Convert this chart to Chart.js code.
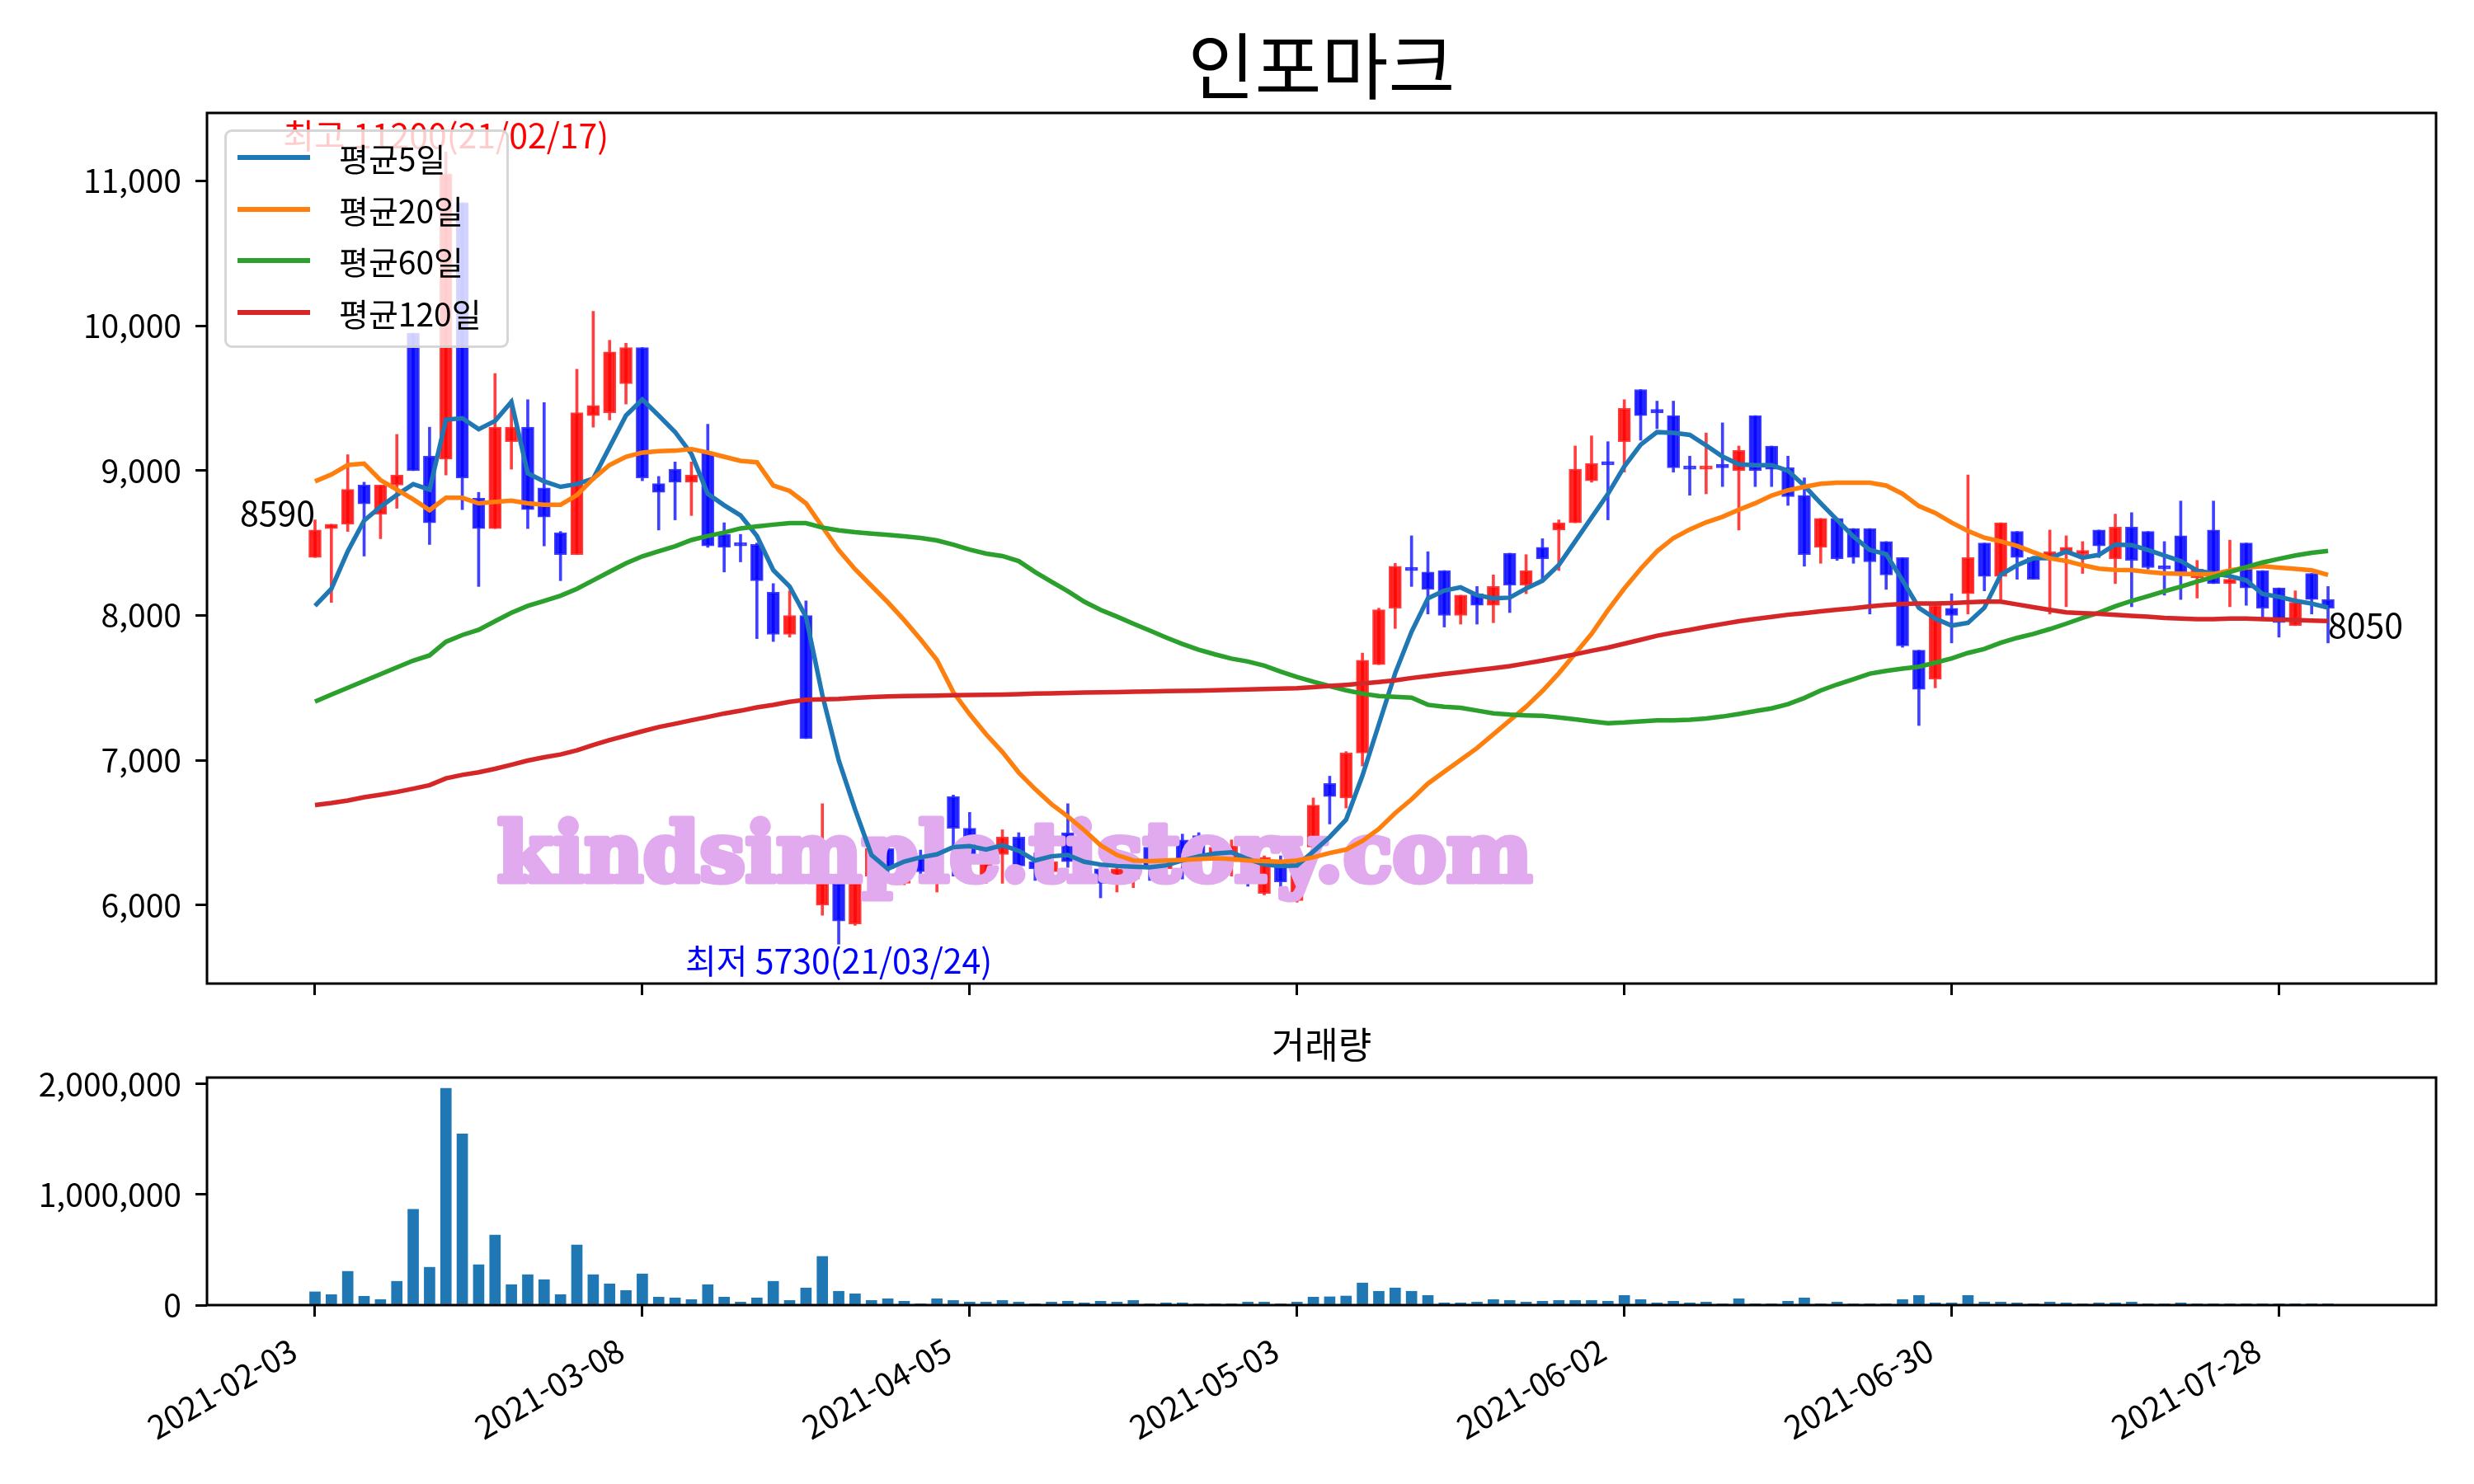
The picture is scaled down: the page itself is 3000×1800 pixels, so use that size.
<!DOCTYPE html>
<html lang="ko">
<head>
<meta charset="UTF-8">
<title>인포마크</title>
<script src="https://cdn.jsdelivr.net/npm/chart.js@4"></script>
<style>
  body { margin: 0; background: #fff; }
  #wrap { position: relative; width: 3000px; height: 1800px; }
  canvas { position: absolute; left: 0; }
  #legend {
    position: absolute; left: 272px; top: 157px; width: 345px; height: 265px;
    box-sizing: border-box; border: 3px solid rgba(204, 204, 204, 0.8); border-radius: 9px;
    background: rgba(255, 255, 255, 0.8);
    font-family: 'Noto Sans CJK KR', 'Noto Sans', sans-serif; font-size: 39px; color: #000;
  }
  .row { position: absolute; left: 0; width: 100%; height: 50px; }
  .row .swatch { position: absolute; left: 13px; top: 22px; width: 88px; height: 6px; }
  .row .name { position: absolute; left: 136px; top: 0; line-height: 50px; white-space: nowrap; }
</style>
</head>
<body>
<div id="wrap">
  <canvas id="priceChart" width="3000" height="1250" style="top:0"></canvas>
  <canvas id="volChart" width="3000" height="600" style="top:1200px"></canvas>
  <div id="legend"></div>
</div>

<script>
// 축 눈금
const tickIdx = [0, 20, 40, 60, 80, 100, 120];
const tickLabels = ['2021-02-03', '2021-03-08', '2021-04-05', '2021-05-03', '2021-06-02', '2021-06-30', '2021-07-28'];
const priceTicks = [6000, 7000, 8000, 9000, 10000, 11000];
const volTicks = [0, 1000000, 2000000];
const highDate = '21/02/17';
const lowDate = '21/03/24';

// 일봉 (시가/고가/저가/종가)
const opens = [8400,8600,8630,8900,8700,8900,9950,9100,9080,10850,
  8810,8600,9200,9300,8880,8570,8420,9380,9400,9600,
  9850,8910,9010,8920,9130,8560,8500,8490,8160,7870,
  8000,6000,6150,5870,6200,6390,6150,6320,6250,6750,
  6530,6200,6350,6470,6300,6230,6500,6300,6250,6170,
  6180,6400,6250,6450,6480,6330,6300,6400,6080,6310,
  6030,6400,6840,6740,7050,7660,8050,8330,8300,8310,
  8000,8150,8070,8430,8210,8470,8590,8640,8930,9050,
  9200,9560,9410,9380,9020,9010,9030,9000,9380,9170,
  9020,8830,8470,8670,8600,8600,8510,8400,7760,7560,
  8050,8150,8500,8270,8580,8400,8390,8440,8420,8590,
  8390,8610,8580,8330,8550,8260,8590,8220,8500,8310,
  8190,7930,8290,8110];
const highs = [8660,8630,9110,8920,8900,9250,9950,9300,11200,10850,
  8850,9670,9490,9490,9470,8580,9700,10100,9900,9880,
  9850,8960,9060,9060,9320,8640,8560,8500,8220,8170,
  8100,6700,6150,6200,6450,6420,6350,6380,6540,6760,
  6640,6440,6520,6500,6360,6350,6700,6380,6280,6310,
  6290,6490,6380,6490,6500,6450,6450,6420,6340,6340,
  6320,6740,6890,7060,7740,8050,8360,8550,8440,8310,
  8140,8200,8280,8430,8420,8530,8660,9170,9240,9200,
  9490,9560,9480,9480,9100,9260,9330,9170,9380,9170,
  9100,8950,8670,8670,8600,8600,8510,8400,7760,8070,
  8150,8970,8500,8640,8580,8400,8590,8550,8510,8590,
  8700,8710,8580,8510,8790,8380,8790,8520,8500,8310,
  8190,8170,8290,8200];
const lows = [8400,8090,8580,8410,8530,8740,9000,8490,8970,8730,
  8200,8600,9010,8600,8480,8240,8420,9300,9350,9460,
  8930,8590,8660,8690,8470,8300,8370,7840,7820,7850,
  7150,5930,5730,5860,6150,6200,6140,6170,6090,6200,
  6170,6150,6150,6170,6170,6150,6260,6250,6050,6090,
  6120,6170,6200,6180,6250,6280,6200,6130,6070,6100,
  6020,6350,6560,6670,6960,7660,7910,8200,8010,7920,
  7940,7940,7950,8020,8150,8250,8310,8640,8920,8660,
  8990,9210,9290,8990,8830,8840,8890,8590,8890,8890,
  8760,8340,8360,8380,8360,8010,8180,7780,7240,7500,
  7810,8010,8170,8110,8250,8250,8010,8060,8290,8400,
  8220,8060,8320,8140,8110,8120,8220,8060,8070,7970,
  7850,7930,8010,7810];
const closes = [8590,8630,8870,8770,8900,8970,9000,8640,11050,8950,
  8600,9300,9300,8730,8680,8420,9400,9450,9820,9850,
  8950,8850,8920,8970,8480,8470,8480,8240,7870,8000,
  7150,6150,5890,6150,6390,6250,6320,6230,6530,6530,
  6310,6420,6470,6270,6250,6300,6300,6320,6150,6250,
  6250,6250,6320,6300,6330,6400,6410,6250,6330,6160,
  6280,6690,6750,7050,7690,8040,8340,8310,8180,8000,
  8140,8070,8200,8210,8310,8390,8640,9010,9050,9040,
  9430,9380,9400,9020,9010,9020,9020,9140,9000,9010,
  8820,8420,8670,8390,8400,8370,8280,7790,7490,8070,
  8000,8400,8270,8640,8400,8250,8440,8470,8450,8480,
  8610,8380,8330,8320,8300,8320,8220,8250,8190,8050,
  7950,8090,8110,8050];

// 이동평균선
const ma5 = [8066,8184,8443,8655,8750,8832,8907,8869,9352,9362,
  9286,9343,9475,8982,8926,8888,8907,8945,9163,9381,
  9491,9381,9267,9115,8840,8761,8691,8549,8313,8200,
  7990,7450,7000,6660,6346,6250,6300,6330,6350,6400,
  6407,6384,6413,6375,6308,6337,6346,6299,6280,6270,
  6265,6261,6274,6308,6337,6356,6365,6318,6280,6270,
  6274,6370,6470,6590,6894,7247,7601,7887,8118,8172,
  8194,8140,8118,8123,8186,8240,8349,8512,8676,8839,
  9029,9179,9266,9261,9247,9174,9097,9043,9038,9038,
  9000,8895,8775,8660,8546,8452,8423,8243,8053,7978,
  7930,7949,8053,8281,8347,8395,8395,8442,8399,8418,
  8490,8486,8452,8414,8376,8309,8290,8271,8243,8148,
  8129,8101,8082,8054];
const ma20 = [8926,8973,9039,9049,8935,8869,8802,8727,8812,8812,
  8774,8784,8793,8774,8764,8764,8831,8945,9039,9096,
  9125,9134,9138,9149,9125,9096,9068,9058,8897,8860,
  8774,8612,8451,8319,8205,8091,7968,7835,7693,7470,
  7318,7180,7057,6915,6801,6697,6612,6517,6413,6346,
  6308,6303,6308,6312,6318,6323,6318,6308,6303,6299,
  6308,6330,6360,6383,6443,6526,6635,6730,6839,6921,
  7002,7084,7179,7275,7370,7479,7601,7737,7873,8036,
  8186,8322,8444,8534,8594,8643,8681,8730,8775,8828,
  8864,8888,8909,8916,8916,8916,8897,8840,8755,8708,
  8641,8584,8537,8512,8480,8436,8395,8376,8347,8323,
  8315,8313,8300,8290,8287,8285,8285,8310,8330,8340,
  8330,8322,8312,8280];
const ma60 = [7405,7453,7500,7547,7594,7641,7688,7724,7818,7865,
  7901,7960,8018,8066,8101,8136,8184,8243,8302,8360,
  8408,8443,8478,8521,8549,8573,8601,8615,8627,8637,
  8637,8607,8588,8575,8565,8556,8546,8535,8518,8489,
  8455,8427,8410,8375,8300,8233,8167,8095,8038,7992,
  7943,7896,7848,7803,7763,7731,7702,7682,7653,7612,
  7575,7542,7512,7483,7460,7443,7438,7432,7383,7370,
  7362,7343,7324,7315,7310,7307,7296,7283,7269,7256,
  7261,7269,7275,7275,7280,7288,7302,7320,7340,7358,
  7387,7430,7482,7523,7560,7598,7617,7633,7646,7674,
  7703,7741,7769,7811,7845,7873,7906,7943,7983,8019,
  8063,8101,8133,8167,8199,8234,8266,8300,8334,8366,
  8391,8414,8433,8446];
const ma120 = [6691,6705,6722,6745,6762,6781,6804,6828,6875,6899,
  6917,6941,6969,6998,7021,7040,7068,7106,7139,7170,
  7200,7229,7252,7276,7299,7323,7342,7365,7382,7404,
  7418,7421,7424,7430,7437,7440,7443,7445,7447,7449,
  7450,7452,7454,7457,7460,7462,7465,7467,7469,7471,
  7473,7475,7477,7479,7481,7483,7486,7489,7492,7495,
  7498,7505,7513,7521,7530,7540,7552,7568,7582,7596,
  7609,7623,7636,7650,7669,7688,7710,7732,7756,7778,
  7805,7832,7860,7881,7900,7922,7941,7960,7976,7990,
  8005,8016,8029,8040,8050,8063,8072,8080,8082,8082,
  8086,8091,8095,8095,8076,8057,8038,8021,8016,8012,
  8004,7997,7991,7983,7978,7974,7974,7978,7978,7974,
  7972,7968,7964,7962];

// 거래량
const volumes = [120000,95000,305000,80000,50000,215000,866000,342000,1960000,1548000,
  365000,634000,185000,275000,230000,95000,544000,275000,192000,132000,
  282000,72000,65000,50000,185000,72000,27000,65000,215000,42000,
  155000,440000,125000,102000,42000,57000,35000,12000,57000,42000,
  27000,27000,42000,27000,12000,27000,35000,20000,35000,27000,
  42000,12000,20000,20000,12000,12000,12000,27000,27000,12000,
  27000,72000,75000,82000,200000,125000,155000,125000,87000,20000,
  20000,27000,50000,42000,27000,35000,42000,42000,42000,35000,
  87000,50000,20000,35000,20000,27000,12000,57000,5000,12000,
  35000,65000,12000,27000,12000,12000,3000,50000,87000,20000,
  20000,87000,27000,27000,20000,4000,27000,20000,12000,20000,
  20000,27000,4000,12000,20000,5000,5000,4000,4000,4000,
  12000,3000,3000,3000];

const maNames = ['평균5일', '평균20일', '평균60일', '평균120일'];
const maColors = ['#1f77b4', '#ff7f0e', '#2ca02c', '#d62728'];
const maSeries = [ma5, ma20, ma60, ma120];

const FONT = "'Noto Sans CJK KR', 'Noto Sans', sans-serif";
Chart.defaults.font.family = FONT;
Chart.defaults.color = '#000';

const idx = closes.map((_, i) => i);
const up = closes.map((c, i) => c >= opens[i]);
const fmt = v => v.toLocaleString('en-US');

const tickGrid = { display: true, drawOnChartArea: false, drawTicks: true, tickLength: 14, lineWidth: 3, color: '#000', offset: false };

function xScale(showLabels, height) {
  return {
    type: 'linear', min: -6.6, max: 129.6, offset: false,
    grid: tickGrid, border: { display: false },
    ticks: showLabels
      ? { display: true, autoSkip: false, minRotation: 30, maxRotation: 30, padding: 17, labelOffset: -26,
          font: { size: 39 }, callback: v => tickLabels[tickIdx.indexOf(v)] }
      : { display: false },
    afterBuildTicks: s => { s.ticks = tickIdx.map(v => ({ value: v })); },
    afterFit: s => { s.height = height; }
  };
}

// 테두리 + 축 제목 (축 영역 가운데)
const frame = {
  id: 'frame',
  afterDraw(chart, args, opts) {
    const { ctx, chartArea: a } = chart;
    ctx.save();
    ctx.strokeStyle = '#000';
    ctx.lineWidth = 3;
    ctx.strokeRect(a.left, a.top, a.right - a.left, a.bottom - a.top);
    ctx.fillStyle = '#000';
    ctx.font = opts.size + 'px ' + FONT;
    ctx.textAlign = 'center';
    ctx.textBaseline = 'middle';
    ctx.fillText(opts.text, (a.left + a.right) / 2, opts.y);
    ctx.restore();
  }
};

// 워터마크 + 최고/최저/시작/끝 표시
const notes = {
  id: 'notes',
  afterDatasetDraw(chart, args) {
    if (args.index !== 1) return;
    const { ctx, chartArea: a } = chart;
    ctx.save();
    ctx.beginPath();
    ctx.rect(a.left, a.top, a.right - a.left, a.bottom - a.top);
    ctx.clip();
    ctx.font = 'bold 99px "DejaVu Serif"';
    ctx.fillStyle = '#e2aaee';
    ctx.strokeStyle = '#e2aaee';
    ctx.lineWidth = 7;
    ctx.lineJoin = 'round';
    ctx.textAlign = 'left';
    ctx.textBaseline = 'alphabetic';
    ctx.strokeText('kindsimple.tistory.com', 603, 1069, 1255);
    ctx.fillText('kindsimple.tistory.com', 603, 1069, 1255);
    ctx.restore();
  },
  afterDatasetsDraw(chart) {
    const { ctx, scales: { x, y } } = chart;
    const hi = Math.max(...highs), lo = Math.min(...lows);
    const hiI = highs.indexOf(hi), loI = lows.indexOf(lo);
    const last = closes.length - 1;
    ctx.save();
    ctx.font = '41px ' + FONT;
    ctx.textAlign = 'center';
    ctx.textBaseline = 'bottom';
    ctx.fillStyle = '#ff0000';
    ctx.fillText('최고 ' + hi + '(' + highDate + ')', x.getPixelForValue(hiI), y.getPixelForValue(hi));
    ctx.textBaseline = 'top';
    ctx.fillStyle = '#0000ff';
    ctx.fillText('최저 ' + lo + '(' + lowDate + ')', x.getPixelForValue(loI), y.getPixelForValue(lo));
    ctx.fillStyle = '#000';
    ctx.textAlign = 'right';
    ctx.textBaseline = 'bottom';
    ctx.fillText(String(closes[0]), x.getPixelForValue(0), y.getPixelForValue(closes[0]));
    ctx.textAlign = 'left';
    ctx.textBaseline = 'top';
    ctx.fillText(String(closes[last]), x.getPixelForValue(last), y.getPixelForValue(closes[last]));
    ctx.restore();
  }
};

new Chart(document.getElementById('priceChart'), {
  type: 'bar',
  data: {
    datasets: [
      {
        label: 'wick',
        data: idx.map(i => ({ x: i, y: [lows[i], highs[i]] })),
        backgroundColor: up.map(u => u ? 'rgba(255,30,30,0.85)' : 'rgba(30,30,255,0.85)'),
        barThickness: 3, grouped: false, order: 6
      },
      {
        label: 'body',
        data: idx.map(i => ({ x: i, y: [opens[i], closes[i]] })),
        backgroundColor: up.map(u => u ? 'rgba(255,0,0,0.85)' : 'rgba(0,0,255,0.85)'),
        borderColor: up.map(u => u ? 'rgba(255,40,40,0.9)' : 'rgba(40,40,255,0.9)'),
        borderWidth: 2, borderSkipped: false, barThickness: 15, minBarLength: 4,
        grouped: false, order: 5
      },
      ...maSeries.map((s, k) => ({
        type: 'line', label: maNames[k],
        data: s.map((v, i) => ({ x: i, y: v })),
        borderColor: maColors[k], borderWidth: 5.5,
        pointRadius: 0, tension: 0, order: 4 - k
      }))
    ]
  },
  options: {
    responsive: false, animation: false, devicePixelRatio: 1,
    layout: { padding: { left: 0, right: 46, top: 137, bottom: 0 } },
    plugins: {
      legend: { display: false }, tooltip: { enabled: false },
      frame: { text: '인포마크', size: 88, y: 80 }
    },
    scales: {
      x: xScale(false, 57),
      y: {
        type: 'linear', min: 5458, max: 11470, beginAtZero: false,
        grid: tickGrid, border: { display: false },
        ticks: { font: { size: 39 }, padding: 17, callback: v => fmt(v) },
        afterBuildTicks: s => { s.ticks = priceTicks.map(v => ({ value: v })); },
        afterFit: s => { s.width = 251; }
      }
    }
  },
  plugins: [notes, frame]
});

new Chart(document.getElementById('volChart'), {
  type: 'bar',
  data: {
    datasets: [{
      label: '거래량',
      data: idx.map(i => ({ x: i, y: volumes[i] })),
      backgroundColor: '#1f77b4', barThickness: 13
    }]
  },
  options: {
    responsive: false, animation: false, devicePixelRatio: 1,
    layout: { padding: { left: 0, right: 46, top: 107, bottom: 0 } },
    plugins: {
      legend: { display: false }, tooltip: { enabled: false },
      frame: { text: '거래량', size: 44, y: 67 }
    },
    scales: {
      x: xScale(true, 217),
      y: {
        type: 'linear', min: 0, max: Math.max(...volumes) * 1.05, beginAtZero: true,
        grid: tickGrid, border: { display: false },
        ticks: { font: { size: 39 }, padding: 17, callback: v => fmt(v) },
        afterBuildTicks: s => { s.ticks = volTicks.map(v => ({ value: v })); },
        afterFit: s => { s.width = 251; }
      }
    }
  },
  plugins: [frame]
});

// 범례
const legend = document.getElementById('legend');
maNames.forEach((name, k) => {
  const row = document.createElement('div');
  row.className = 'row';
  row.style.top = (6 + k * 62.7) + 'px';
  const sw = document.createElement('div');
  sw.className = 'swatch';
  sw.style.background = maColors[k];
  const tx = document.createElement('div');
  tx.className = 'name';
  tx.textContent = name;
  row.appendChild(sw);
  row.appendChild(tx);
  legend.appendChild(row);
});
</script>
</body>
</html>
